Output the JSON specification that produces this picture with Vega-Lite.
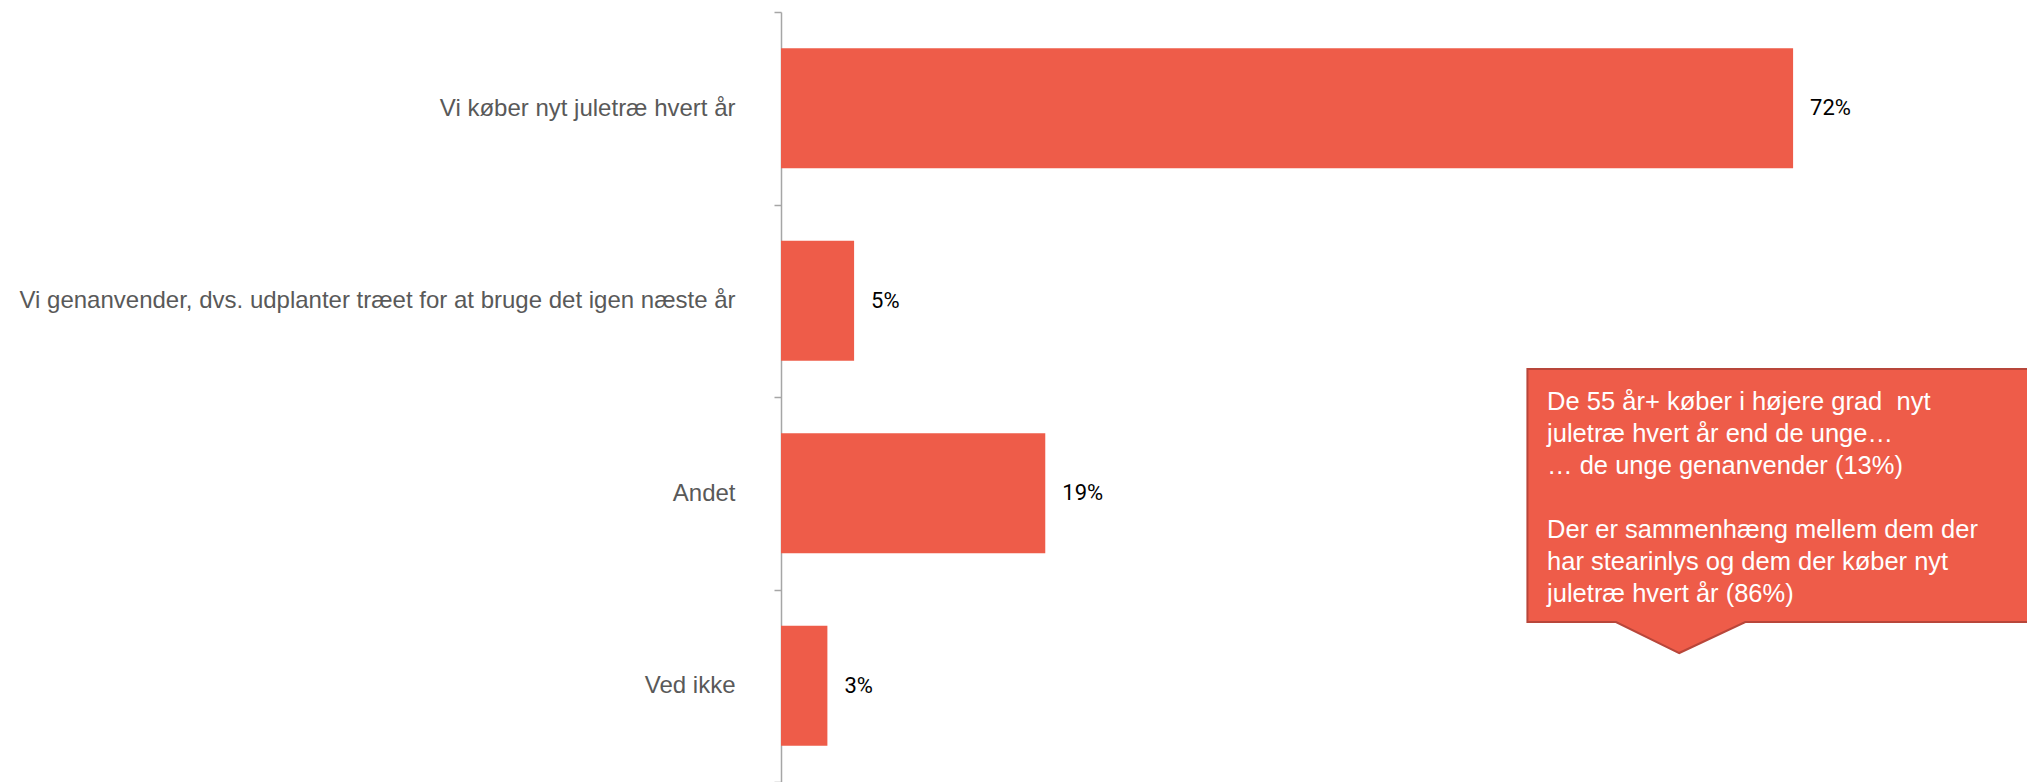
{
  "$schema": "https://vega.github.io/schema/vega-lite/v6.json",
  "autosize": "none",
  "padding": {"left": 781, "top": 12, "right": 9, "bottom": 0},
  "width": 1237,
  "height": 770,
  "background": "white",
  "config": {"view": {"stroke": null}},
  "datasets": {
    "bars": [
      {"kategori": "Vi køber nyt juletræ hvert år", "andel": 72.0, "label": "72%"},
      {"kategori": "Vi genanvender, dvs. udplanter træet for at bruge det igen næste år", "andel": 5.2, "label": "5%"},
      {"kategori": "Andet", "andel": 18.8, "label": "19%"},
      {"kategori": "Ved ikke", "andel": 3.3, "label": "3%"}
    ],
    "callout": [
      {"x": 53.1, "top": 1.855, "bottom": 3.169},
      {"x": 59.4, "top": 1.855, "bottom": 3.169},
      {"x": 63.9, "top": 1.855, "bottom": 3.33},
      {"x": 68.6, "top": 1.855, "bottom": 3.169},
      {"x": 88.85, "top": 1.855, "bottom": 3.169}
    ],
    "note": [
      {"x": 54.5, "y": 2.0665, "tekst": "De 55 år+ køber i højere grad \u00a0nyt\njuletræ hvert år end de unge…\n… de unge genanvender (13%)"},
      {"x": 54.5, "y": 2.7314, "tekst": "Der er sammenhæng mellem dem der\nhar stearinlys og dem der køber nyt\njuletræ hvert år (86%)"}
    ]
  },
  "layer": [
    {
      "data": {"name": "bars"},
      "encoding": {
        "y": {
          "field": "kategori",
          "type": "nominal",
          "sort": null,
          "title": null,
          "scale": {"paddingInner": 0, "paddingOuter": 0},
          "axis": {
            "tickBand": "extent",
            "domainColor": "#a6a6a6",
            "domainWidth": 1.5,
            "tickColor": "#a6a6a6",
            "tickWidth": 1.5,
            "tickSize": 7,
            "labelPadding": 39,
            "labelFont": "Liberation Sans, Arial, sans-serif",
            "labelFontSize": 24,
            "labelColor": "#595959",
            "labelLimit": 900,
            "grid": false
          }
        },
        "x": {
          "field": "andel",
          "type": "quantitative",
          "scale": {"domain": [0, 88], "nice": false, "zero": true},
          "axis": null
        }
      },
      "layer": [
        {"mark": {"type": "bar", "color": "#ee5c49", "height": {"band": 0.623}}},
        {
          "mark": {"type": "text", "align": "left", "baseline": "middle", "dx": 17, "font": "Liberation Sans Narrow, Roboto, sans-serif", "fontSize": 22, "color": "#000000"},
          "encoding": {"text": {"field": "label", "type": "nominal"}}
        }
      ]
    },
    {
      "layer": [
        {
          "data": {"name": "callout"},
          "mark": {"type": "area", "color": "#ee5c49", "fillOpacity": 1, "stroke": "#b8463a", "strokeWidth": 2},
          "encoding": {
            "x": {"field": "x", "type": "quantitative", "scale": {"domain": [0, 88], "nice": false}, "axis": null},
            "y": {"field": "top", "type": "quantitative", "scale": {"domain": [0, 4], "reverse": true, "nice": false, "zero": false}, "axis": null},
            "y2": {"field": "bottom"}
          }
        },
        {
          "data": {"name": "note"},
          "mark": {"type": "text", "align": "left", "baseline": "alphabetic", "lineBreak": "\n", "lineHeight": 32, "font": "Liberation Sans, Arial, sans-serif", "fontSize": 25.5, "color": "#ffffff"},
          "encoding": {
            "x": {"field": "x", "type": "quantitative", "scale": {"domain": [0, 88], "nice": false}, "axis": null},
            "y": {"field": "y", "type": "quantitative", "scale": {"domain": [0, 4], "reverse": true, "nice": false, "zero": false}, "axis": null},
            "text": {"field": "tekst", "type": "nominal"}
          }
        }
      ]
    }
  ],
  "resolve": {"scale": {"y": "independent"}, "axis": {"y": "independent"}}
}
